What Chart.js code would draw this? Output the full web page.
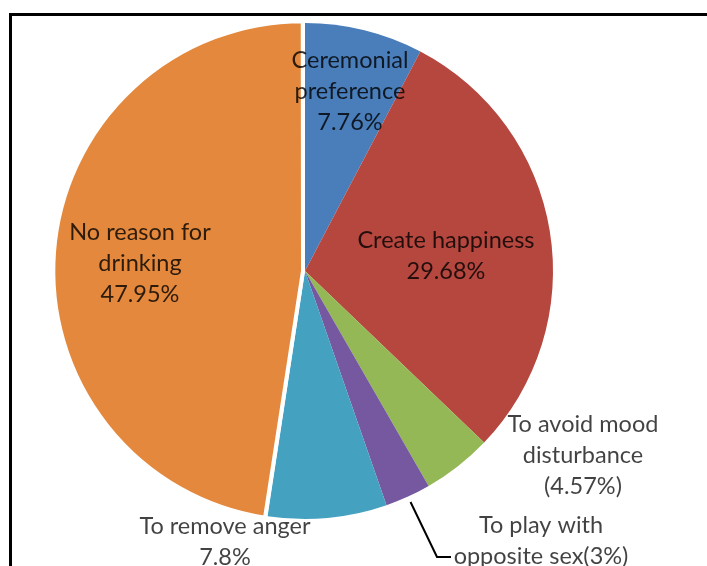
<!DOCTYPE html>
<html>
<head>
<meta charset="utf-8">
<script src="https://cdn.jsdelivr.net/npm/chart.js@4"></script>
<style>
  html, body { margin: 0; padding: 0; background: #fff; }
  #wrap { position: relative; width: 707px; height: 566px; overflow: hidden; }
  #frame { position: absolute; left: 9px; top: 13px; width: 720px; height: 600px;
           border-top: 3px solid #000; border-left: 3px solid #000; box-sizing: border-box; }
  canvas { position: absolute; left: 0; top: 0; }
</style>
</head>
<body>
<div id="wrap">
  <div id="frame"></div>
  <canvas id="c" width="707" height="566"></canvas>
</div>
<script>
// ---- data ----
const categories = [
  "Ceremonial preference",
  "Create happiness",
  "To avoid mood disturbance",
  "To play with opposite sex",
  "To remove anger",
  "No reason for drinking"
];
const values = [7.76, 29.68, 4.57, 3, 7.8, 47.95];
const labelLines = [
  ["Ceremonial", "preference", "7.76%"],
  ["Create happiness", "29.68%"],
  ["To avoid mood", "disturbance", "(4.57%)"],
  ["To play with", "opposite sex(3%)"],
  ["To remove anger", "7.8%"],
  ["No reason for", "drinking", "47.95%"]
];

// ---- styles / layout ----
const colors = ["#4A7EBB", "#B5473F", "#93B855", "#7558A0", "#44A2C0", "#E3883C"];
const offsets = [0, 0, 0, 0, 0, 8];
const borderWidths = [0, 0, 0, 0, 0, 4];
// label anchor (centre x, first line y) relative to pie centre
const labelLayout = [
  { dx: 45,   dy: -211, inside: true },
  { dx: 141,  dy: -31,  inside: true },
  { dx: 278,  dy: 153,  inside: false },
  { dx: 236,  dy: 254,  inside: false },
  { dx: -80,  dy: 255,  inside: false },
  { dx: -165, dy: -39,  inside: true }
];
const lineHeight = 31;
const leader = { index: 3, elbow: [132, 286], end: [146, 286] };

const labelPlugin = {
  id: 'labels',
  afterDatasetsDraw(chart) {
    const ctx = chart.ctx;
    const meta = chart.getDatasetMeta(0);
    const base = meta.data[0];
    const cx = base.x, cy = base.y;
    ctx.save();
    const arc = meta.data[leader.index];
    const mid = (arc.startAngle + arc.endAngle) / 2;
    const r = arc.outerRadius + 6;
    ctx.strokeStyle = '#000';
    ctx.lineWidth = 2;
    ctx.beginPath();
    ctx.moveTo(arc.x + Math.cos(mid) * r, arc.y + Math.sin(mid) * r);
    ctx.lineTo(cx + leader.elbow[0], cy + leader.elbow[1]);
    ctx.lineTo(cx + leader.end[0], cy + leader.end[1]);
    ctx.stroke();
    ctx.font = '23.5px Lato, "Open Sans", sans-serif';
    ctx.textAlign = 'center';
    ctx.textBaseline = 'middle';
    labelLines.forEach((lines, i) => {
      const L = labelLayout[i];
      ctx.fillStyle = L.inside ? 'rgba(0,0,0,0.8)' : 'rgba(0,0,0,0.74)';
      lines.forEach((t, k) => {
        ctx.fillText(t, cx + L.dx, cy + L.dy + k * lineHeight);
      });
    });
    ctx.restore();
  }
};

new Chart(document.getElementById('c'), {
  type: 'pie',
  data: {
    labels: categories,
    datasets: [{
      data: values,
      backgroundColor: colors,
      borderColor: '#ffffff',
      borderWidth: borderWidths,
      offset: offsets
    }]
  },
  options: {
    responsive: false,
    animation: false,
    radius: 248,
    layout: { padding: { left: 57, right: 154, top: 23, bottom: 47 } },
    plugins: { legend: { display: false }, tooltip: { enabled: false } },
    events: []
  },
  plugins: [labelPlugin]
});
</script>
</body>
</html>
